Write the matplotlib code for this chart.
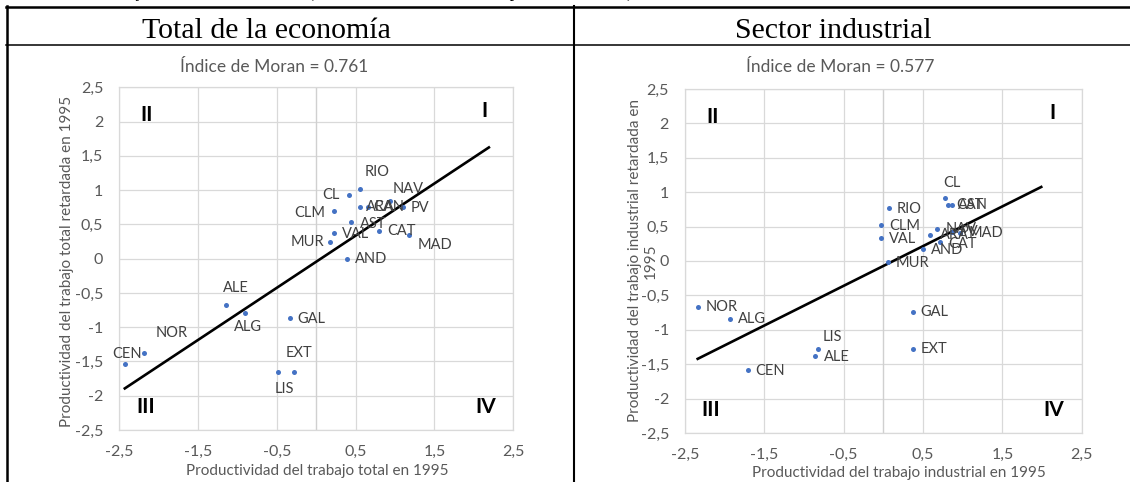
import matplotlib
matplotlib.use("Agg")
import matplotlib.pyplot as plt
from matplotlib.lines import Line2D
import numpy as np

# ---------------- data ----------------
tot_labels = ['RIO', 'CL', 'ARA', 'CAN', 'NAV', 'PV', 'CLM', 'AST', 'VAL', 'MUR',
              'CAT', 'MAD', 'AND', 'ALE', 'ALG', 'GAL', 'NOR', 'CEN', 'LIS', 'EXT']
tot_x = [0.55, 0.41, 0.56, 0.65, 0.93, 1.10, 0.23, 0.44, 0.23, 0.17,
         0.80, 1.18, 0.39, -1.14, -0.91, -0.34, -2.19, -2.43, -0.48, -0.28]
tot_y = [1.02, 0.93, 0.75, 0.76, 0.84, 0.76, 0.69, 0.54, 0.37, 0.24,
         0.41, 0.34, -0.01, -0.68, -0.79, -0.86, -1.37, -1.53, -1.66, -1.66]

ind_labels = ['CL', 'CAN', 'AST', 'RIO', 'CLM', 'VAL', 'NAV', 'ARA', 'PV', 'MAD',
              'CAT', 'AND', 'MUR', 'GAL', 'EXT', 'NOR', 'ALG', 'LIS', 'ALE', 'CEN']
ind_x = [0.78, 0.81, 0.86, 0.07, -0.03, -0.03, 0.68, 0.59, 0.86, 0.97,
         0.72, 0.50, 0.06, 0.37, 0.37, -2.34, -1.93, -0.82, -0.86, -1.71]
ind_y = [0.91, 0.81, 0.81, 0.77, 0.52, 0.33, 0.46, 0.38, 0.42, 0.40,
         0.28, 0.17, -0.02, -0.74, -1.28, -0.67, -0.84, -1.28, -1.38, -1.59]

moran = [0.761, 0.577]
trend_intercept = [-0.044, -0.072]
trend_xrange = [[-2.43, 2.19], [-2.34, 1.99]]

panel_titles = ['Total de la economía', 'Sector industrial']
xlabels = ['Productividad del trabajo total en 1995',
           'Productividad del trabajo industrial en 1995']
ylabels = ['Productividad del trabajo total retardada en 1995',
           'Productividad del trabajo industrial retardada en\n1995']
xticks = [-2.5, -1.5, -0.5, 0.5, 1.5, 2.5]
yticks = [-2.5, -2, -1.5, -1, -0.5, 0, 0.5, 1, 1.5, 2, 2.5]
quadrants = ['I', 'II', 'III', 'IV']
caption = 'de la economía y en el sector industrial (desviación normalizada respecto a la media).'

# ---------------- label placement (pixel offsets, ha) ----------------
tot_offsets = {
    'RIO': (5, -17, 'left'), 'CL': (-9, 0, 'right'), 'ARA': (6, 0, 'left'),
    'CAN': (6, 0, 'left'), 'NAV': (3, -12, 'left'), 'PV': (8, 1, 'left'),
    'CLM': (-9, 2, 'right'), 'AST': (9, 2, 'left'), 'VAL': (8, 1, 'left'),
    'MUR': (-5, 0, 'right'), 'CAT': (8, 0, 'left'), 'MAD': (8, 10, 'left'),
    'AND': (8, 0, 'left'), 'ALE': (-4, -17, 'left'), 'ALG': (-11, 14, 'left'),
    'GAL': (8, 1, 'left'), 'NOR': (12, -20, 'left'), 'CEN': (-13, -10, 'left'),
    'LIS': (-4, 17, 'left'), 'EXT': (-9, -19, 'left'),
}
ind_offsets = {
    'CL': (-2, -15, 'left'), 'CAN': (9, 0, 'left'), 'AST': (6, 0, 'left'),
    'RIO': (8, 1, 'left'), 'CLM': (8, 1, 'left'), 'VAL': (8, 1, 'left'),
    'NAV': (8, 0, 'left'), 'ARA': (10, 0, 'left'), 'PV': (8, 0, 'left'),
    'MAD': (8, 0, 'left'), 'CAT': (8, 2, 'left'), 'AND': (8, 1, 'left'),
    'MUR': (8, 1, 'left'), 'GAL': (8, 0, 'left'), 'EXT': (8, 0, 'left'),
    'NOR': (8, 0, 'left'), 'ALG': (8, 0, 'left'), 'LIS': (4, -12, 'left'),
    'ALE': (9, 1, 'left'), 'CEN': (8, 1, 'left'),
}

W, H = 1130, 482
fig = plt.figure(figsize=(W / 100, H / 100), dpi=100)
fig.patch.set_facecolor('white')


def fx(px):
    return px / W


def fy(py):
    return 1 - py / H


SANS = ['Lato', 'DejaVu Sans']
SERIF = ['Liberation Serif', 'DejaVu Serif']
GREY = '#595959'
LBL = '#404040'
GRID = '#D9D9D9'
BLUE = '#4472C4'

# axes boxes in pixels: left, top, right, bottom
boxes = [(119.3, 87.3, 513.3, 430.0), (685.0, 89.0, 1081.7, 433.0)]
moran_pos = [(274, 66.5), (840, 66.5)]
title_pos = [(266.5, 37.5), (833, 37.5)]
xlab_pos = [(317, 471), (899, 473)]
ylab_pos = [(67, 261), (643, 261)]
quad_pos = {'I': (2.13, 2.15), 'II': (-2.15, 2.1), 'III': (-2.17, -2.17), 'IV': (2.15, -2.17)}

datasets = [(tot_labels, tot_x, tot_y, tot_offsets),
            (ind_labels, ind_x, ind_y, ind_offsets)]

for i, (labs, xs, ys, offs) in enumerate(datasets):
    l, t, r, b = boxes[i]
    ax = fig.add_axes([fx(l), fy(b), fx(r) - fx(l), fy(t) - fy(b)])
    ax.set_xlim(-2.5, 2.5)
    ax.set_ylim(-2.5, 2.5)
    ax.set_xticks(xticks)
    ax.set_yticks(yticks)
    ax.set_xticklabels([f'{v:g}'.replace('.', ',') for v in xticks])
    ax.set_yticklabels([f'{v:g}'.replace('.', ',') for v in yticks])
    ax.tick_params(length=0, labelsize=11.5, colors=GREY)
    ax.tick_params(axis='y', pad=11.5)
    ax.tick_params(axis='x', pad=11)
    for lab in ax.get_xticklabels() + ax.get_yticklabels():
        lab.set_fontfamily(SANS)
    ax.grid(True, color=GRID, lw=0.9)
    ax.set_axisbelow(True)
    for s in ax.spines.values():
        s.set_color(GRID)
        s.set_linewidth(0.9)
    ax.axvline(0, color='#D0D0D0', lw=1.0, zorder=1)

    # trend line
    tx = np.array(trend_xrange[i])
    ax.plot(tx, trend_intercept[i] + moran[i] * tx, color='black', lw=1.9, zorder=3)

    # points
    ax.scatter(xs, ys, s=13, color=BLUE, zorder=4, linewidths=0)
    for lab, x, y in zip(labs, xs, ys):
        dx, dy, ha = offs[lab]
        ax.annotate(lab, (x, y), xytext=(dx, -dy), textcoords='offset pixels',
                    ha=ha, va='center', fontsize=10.5, color=LBL,
                    family=SANS, zorder=5)

    for q in quadrants:
        qx, qy = quad_pos[q]
        ax.text(qx, qy, q, ha='center', va='center', fontsize=15,
                fontweight='bold', color='black', family=SANS, zorder=5)

    # texts outside axes
    fig.text(fx(moran_pos[i][0]), fy(moran_pos[i][1]),
             f'Índice de Moran = {moran[i]}', ha='center', va='center',
             fontsize=12.5, color=GREY, family=SANS)
    fig.text(fx(title_pos[i][0]), fy(title_pos[i][1]), panel_titles[i],
             ha='center', va='baseline', fontsize=21.5, color='black', family=SERIF)
    fig.text(fx(xlab_pos[i][0]), fy(xlab_pos[i][1]), xlabels[i],
             ha='center', va='center', fontsize=11, color=GREY, family=SANS)
    fig.text(fx(ylab_pos[i][0]), fy(ylab_pos[i][1]), ylabels[i],
             ha='center', va='center', rotation=90, fontsize=11, color=GREY,
             family=SANS, multialignment='center', linespacing=1.2)

# caption cut at top (only the descenders remain visible)
fig.text(fx(637), fy(-3.5), caption, ha='right', va='baseline', fontsize=13,
         color='black', family=SERIF)

# table borders
def hline(y, x0, x1, lw):
    fig.add_artist(Line2D([fx(x0), fx(x1)], [fy(y), fy(y)], color='black', lw=lw))


def vline(x, y0, y1, lw):
    fig.add_artist(Line2D([fx(x), fx(x)], [fy(y0), fy(y1)], color='black', lw=lw))


hline(7, 6, W + 2, 1.8)
hline(44.5, 6, W + 2, 1.1)
vline(7, 6, H + 2, 1.8)
vline(573.5, 6, H + 2, 1.5)

fig.savefig('out.png', dpi=100, facecolor='white')
